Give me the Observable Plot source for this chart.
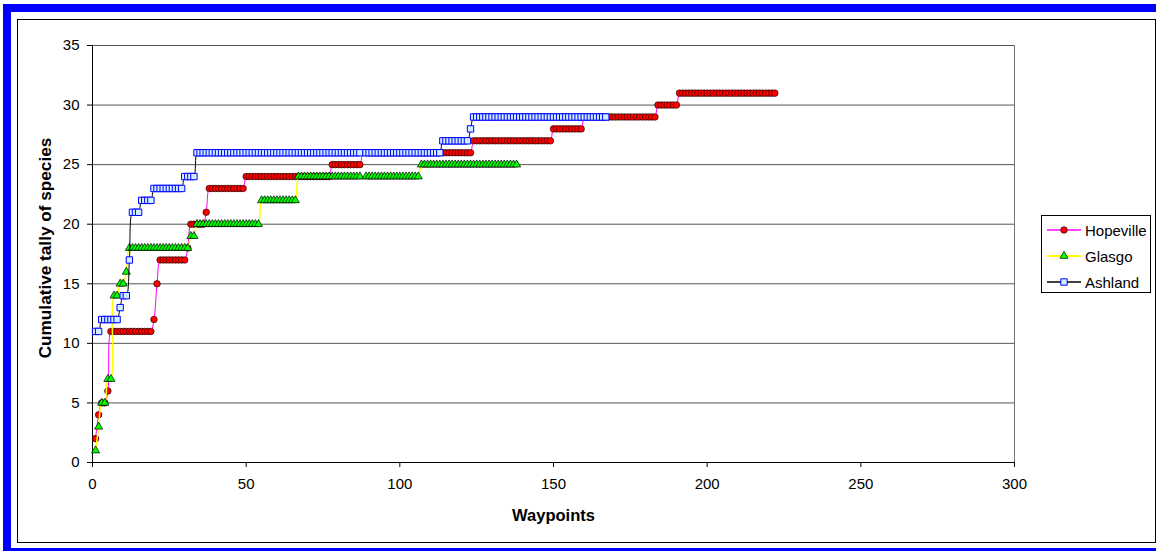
<!DOCTYPE html>
<html>
<head>
<meta charset="utf-8">
<script src="https://cdn.jsdelivr.net/npm/d3@7"></script>
<script src="https://cdn.jsdelivr.net/npm/@observablehq/plot@0.6"></script>
<style>
html, body { margin: 0; padding: 0; background: #fff; width: 1156px; height: 551px; overflow: hidden;
  font-family: "Liberation Sans", Arial, sans-serif; }
#blue { position: absolute; left: 3px; top: 4px; width: 1180px; height: 552px; box-sizing: border-box; border: 8px solid #0000ff; }
#box { position: absolute; left: 17px; top: 19px; width: 1139px; height: 524px; box-sizing: border-box; border: 1.5px solid #000; }
#chart { position: absolute; left: 0; top: 0; }
#legend { position: absolute; left: 1041px; top: 215px; width: 110px; height: 78px; box-sizing: border-box;
  border: 1px solid #000; background: #fff; }
.item { position: absolute; left: 5px; height: 20px; display: flex; align-items: center; font-size: 15px; color: #000; white-space: nowrap; }
.item svg { margin-right: 4px; }
</style>
</head>
<body>
<div id="blue"></div>
<div id="box"></div>
<div id="chart"></div>
<div id="legend"></div>
<script>
// ---- Data ----
const seriesNames = ["Hopeville", "Glasgo", "Ashland"];
const xTicks = [0, 50, 100, 150, 200, 250, 300];
const yTicks = [0, 5, 10, 15, 20, 25, 30, 35];
const xTitle = "Waypoints";
const yTitle = "Cumulative tally of species";

// cumulative tally per waypoint (waypoint 1, 2, 3, ...)
const hopeville = [
  2, 4, 5, 5, 6,
  11, 11, 11, 11, 11, 11, 11, 11, 11, 11, 11, 11, 11, 11,
  12, 15,
  17, 17, 17, 17, 17, 17, 17, 17, 17,
  18,
  20, 20, 20, 20, 20,
  21,
  23, 23, 23, 23, 23, 23, 23, 23, 23, 23, 23, 23,
  24, 24, 24, 24, 24, 24, 24, 24, 24, 24, 24, 24, 24, 24,
  24, 24, 24, 24, 24, 24, 24, 24, 24, 24, 24, 24, 24, 24,
  25, 25, 25, 25, 25, 25, 25, 25, 25, 25,
  26, 26, 26, 26, 26, 26, 26, 26, 26, 26, 26, 26,
  26, 26, 26, 26, 26, 26, 26, 26, 26, 26, 26, 26,
  26, 26, 26, 26, 26, 26, 26, 26, 26, 26, 26, 26,
  27, 27, 27, 27, 27, 27, 27, 27, 27, 27, 27, 27, 27,
  27, 27, 27, 27, 27, 27, 27, 27, 27, 27, 27, 27, 27,
  28, 28, 28, 28, 28, 28, 28, 28, 28, 28,
  29, 29, 29, 29, 29, 29, 29, 29, 29, 29, 29, 29,
  29, 29, 29, 29, 29, 29, 29, 29, 29, 29, 29, 29,
  30, 30, 30, 30, 30, 30, 30,
  31, 31, 31, 31, 31, 31, 31, 31, 31, 31, 31, 31, 31, 31, 31, 31,
  31, 31, 31, 31, 31, 31, 31, 31, 31, 31, 31, 31, 31, 31, 31, 31
];
const glasgo = [
  1, 3, 5, 5, 7, 7, 14, 14, 15, 15, 16,
  18, 18, 18, 18, 18, 18, 18, 18, 18, 18,
  18, 18, 18, 18, 18, 18, 18, 18, 18, 18,
  19, 19,
  20, 20, 20, 20, 20, 20, 20, 20, 20, 20, 20,
  20, 20, 20, 20, 20, 20, 20, 20, 20, 20,
  22, 22, 22, 22, 22, 22, 22, 22, 22, 22, 22, 22,
  24, 24, 24, 24, 24, 24, 24, 24, 24, 24, 24,
  24, 24, 24, 24, 24, 24, 24, 24, 24, 24,
  null,
  24, 24, 24, 24, 24, 24, 24, 24, 24,
  24, 24, 24, 24, 24, 24, 24, 24, 24,
  25, 25, 25, 25, 25, 25, 25, 25, 25, 25, 25, 25, 25, 25, 25, 25,
  25, 25, 25, 25, 25, 25, 25, 25, 25, 25, 25, 25, 25, 25, 25, 25
];
const ashland = [
  11, 11, 12, 12, 12, 12, 12, 12, 13, 14, 14, 17, 21, 21, 21, 22, 22, 22, 22,
  23, 23, 23, 23, 23, 23, 23, 23, 23, 23,
  24, 24, 24, 24,
  26, 26, 26, 26, 26, 26, 26, 26, 26, 26, 26, 26, 26, 26, 26, 26, 26, 26,
  26, 26, 26, 26, 26, 26, 26, 26, 26, 26, 26, 26, 26, 26, 26, 26, 26, 26,
  26, 26, 26, 26, 26, 26, 26, 26, 26, 26, 26, 26, 26, 26, 26, 26, 26, 26,
  null,
  26, 26, 26, 26, 26, 26, 26, 26, 26, 26, 26, 26, 26,
  26, 26, 26, 26, 26, 26, 26, 26, 26, 26, 26, 26,
  27, 27, 27, 27, 27, 27, 27, 27, 27,
  28,
  29, 29, 29, 29, 29, 29, 29, 29, 29, 29, 29,
  29, 29, 29, 29, 29, 29, 29, 29, 29, 29, 29,
  29, 29, 29, 29, 29, 29, 29, 29, 29, 29, 29,
  29, 29, 29, 29, 29, 29, 29, 29, 29, 29, 29
];

// ---- Styles ----
const styles = {
  Hopeville: { line: "#ff00ff", lineWidth: 1, symbol: "circle", r: 3.3, fill: "#ff0000", stroke: "#000000", sw: 0.6 },
  Glasgo:    { line: "#ffff00", lineWidth: 1.5, symbol: "triangle", r: 3.0, fill: "#00ff00", stroke: "#000000", sw: 0.7 },
  Ashland:   { line: "#000000", lineWidth: 1, symbol: "square", r: 3.6, fill: "#cdeeff", stroke: "#0000ff", sw: 1 }
};

const toRows = (arr) => arr.map((v, i) => ({ x: i + 1, y: v })).filter(d => d.y != null);
const tables = { Hopeville: toRows(hopeville), Glasgo: toRows(glasgo), Ashland: toRows(ashland) };

const seriesMarks = seriesNames.flatMap(name => {
  const s = styles[name];
  return [
    Plot.line(tables[name], { x: "x", y: "y", stroke: s.line, strokeWidth: s.lineWidth, curve: "catmull-rom" }),
    Plot.dot(tables[name], { x: "x", y: "y", symbol: s.symbol, r: s.r, fill: s.fill, stroke: s.stroke, strokeWidth: s.sw })
  ];
});

const chart = Plot.plot({
  width: 1156,
  height: 551,
  marginLeft: 92,
  marginRight: 142,
  marginTop: 45,
  marginBottom: 89,
  style: { fontFamily: "Liberation Sans, Arial, sans-serif", fontSize: "15px", background: "transparent", color: "#000", overflow: "visible" },
  x: { domain: [0, 300] },
  y: { domain: [0, 35] },
  marks: [
    Plot.ruleY(yTicks.filter(d => d > 0), { stroke: "#555", strokeWidth: 1 }),
    Plot.ruleX([300], { stroke: "#777", strokeWidth: 1 }),
    Plot.axisY({ ticks: yTicks, tickSize: 5, tickPadding: 8, label: null }),
    Plot.axisX({ ticks: xTicks, tickSize: 5, tickPadding: 11, label: null }),
    Plot.ruleX([0], { stroke: "#000", strokeWidth: 1 }),
    Plot.ruleY([0], { stroke: "#000", strokeWidth: 1 }),
    ...seriesMarks,
    Plot.text([xTitle], { text: d => d, frameAnchor: "bottom", textAnchor: "middle", lineAnchor: "middle", dy: 53, fontWeight: "bold", fontSize: 16.5 }),
    Plot.text([yTitle], { text: d => d, frameAnchor: "left", textAnchor: "middle", lineAnchor: "middle", dx: -47, dy: -6, rotate: -90, fontWeight: "bold", fontSize: 17.2 })
  ]
});
document.getElementById("chart").appendChild(chart);

// ---- Legend ----
const legend = document.getElementById("legend");
const rowCenters = [14, 40, 66];
seriesNames.forEach((name, i) => {
  const s = styles[name];
  const item = document.createElement("div");
  item.className = "item";
  item.style.top = (rowCenters[i] - 10) + "px";
  const svg = d3.create("svg").attr("width", 34).attr("height", 12);
  svg.append("line").attr("x1", 0).attr("x2", 34).attr("y1", 6).attr("y2", 6)
    .attr("stroke", s.line).attr("stroke-width", s.lineWidth + 0.5);
  const sym = { circle: d3.symbolCircle, triangle: d3.symbolTriangle, square: d3.symbolSquare }[s.symbol];
  svg.append("path").attr("transform", "translate(17,6)")
    .attr("d", d3.symbol(sym, Math.PI * s.r * s.r)())
    .attr("fill", s.fill).attr("stroke", s.stroke).attr("stroke-width", s.sw);
  item.appendChild(svg.node());
  const span = document.createElement("span");
  span.textContent = name;
  item.appendChild(span);
  legend.appendChild(item);
});
</script>
</body>
</html>
